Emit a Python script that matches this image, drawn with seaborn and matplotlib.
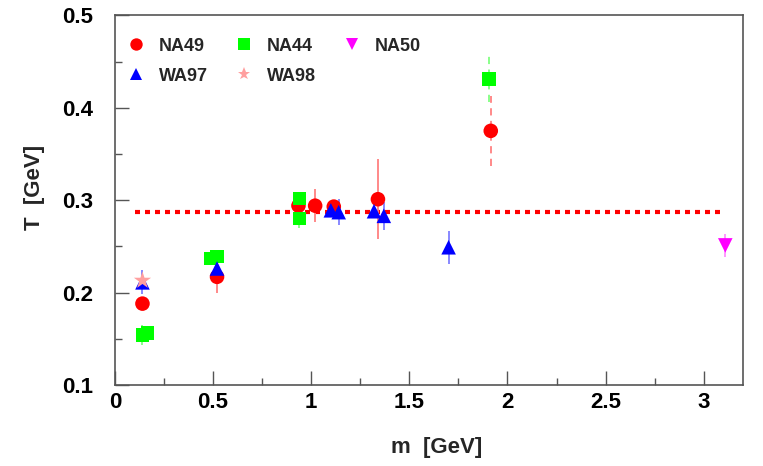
import numpy as np
import pandas as pd
import seaborn as sns
import matplotlib.pyplot as plt
from matplotlib.ticker import MultipleLocator
from matplotlib.lines import Line2D

# measured freeze-out temperatures vs particle mass
na49_m = [0.14, 0.52, 0.935, 1.02, 1.115, 1.34, 1.915]
na49_T = [0.188, 0.217, 0.294, 0.294, 0.293, 0.301, 0.375]
na49_err = [0.0, 0.017, 0.0, 0.018, 0.0, 0.043, 0.038]

na44_m = [0.14, 0.165, 0.49, 0.52, 0.94, 0.94, 1.905]
na44_T = [0.154, 0.156, 0.237, 0.239, 0.302, 0.280, 0.431]
na44_err = [0.011, 0.0, 0.0, 0.0, 0.0, 0.010, 0.025]

wa97_m = [0.14, 0.52, 1.10, 1.14, 1.32, 1.37, 1.70]
wa97_T = [0.211, 0.226, 0.289, 0.287, 0.288, 0.283, 0.249]
wa97_err = [0.013, 0.0, 0.0, 0.014, 0.0, 0.015, 0.018]

wa98_m = [0.14]
wa98_T = [0.213]

na50_m = [3.11]
na50_T = [0.251]
na50_err = [0.012]

# dashed error bars (last point of NA49 and NA44)
dashed_idx = 6

fit_T = 0.2875
fit_range = [0.1, 3.1]

sns.set_style("ticks")
plt.rcParams['font.family'] = ['Liberation Sans', 'DejaVu Sans']
plt.rcParams['font.weight'] = 'bold'

fig = plt.figure(figsize=(7.63, 4.66), dpi=100)
ax = fig.add_axes([0.1507, 0.174, 0.823, 0.793])

# fit line
ax.plot(fit_range, [fit_T, fit_T], color='red', lw=3, ls=(0, (1.2, 1.2)), zorder=1)

experiments = [
    ('NA49', na49_m, na49_T, na49_err, 'o', '#ff0000', '#ff8080', 110),
    ('NA44', na44_m, na44_T, na44_err, 's', '#00ff00', '#80ff80', 95),
    ('WA97', wa97_m, wa97_T, wa97_err, '^', '#0000ff', '#7f7fff', 110),
    ('WA98', wa98_m, wa98_T, None, '*', '#ff9f9f', '#ffb0b0', 170),
    ('NA50', na50_m, na50_T, na50_err, 'v', '#ff00ff', '#ff90ff', 110),
]

for name, m, T, err, mk, col, ecol, size in experiments:
    if err is not None:
        m_arr = np.array(m)
        T_arr = np.array(T)
        e_arr = np.array(err)
        solid = [i for i in range(len(m)) if e_arr[i] > 0 and not (name in ('NA49', 'NA44') and i == dashed_idx)]
        if solid:
            ax.errorbar(m_arr[solid], T_arr[solid], yerr=e_arr[solid], fmt='none',
                        ecolor=ecol, elinewidth=1.3, capsize=0, zorder=2)
        if name in ('NA49', 'NA44'):
            i = dashed_idx
            ax.plot([m_arr[i], m_arr[i]], [T_arr[i] - e_arr[i], T_arr[i] + e_arr[i]],
                    color=ecol, lw=1.3, ls=(0, (4, 3)), zorder=2)
    df = pd.DataFrame({'m': m, 'T': T})
    sns.scatterplot(data=df, x='m', y='T', marker=mk, color=col, s=size,
                    edgecolor='none', ax=ax, zorder=3)

ax.set_xlim(0, 3.2)
ax.set_ylim(0.1, 0.5)
ax.xaxis.set_major_locator(MultipleLocator(0.5))
ax.xaxis.set_minor_locator(MultipleLocator(0.25))
ax.yaxis.set_major_locator(MultipleLocator(0.1))
ax.yaxis.set_minor_locator(MultipleLocator(0.05))
ax.set_xticks([0, 0.5, 1, 1.5, 2, 2.5, 3])
ax.set_xticklabels(['0', '0.5', '1', '1.5', '2', '2.5', '3'])
ax.set_yticks([0.1, 0.2, 0.3, 0.4, 0.5])
ax.set_yticklabels(['0.1', '0.2', '0.3', '0.4', '0.5'])

ax.tick_params(axis='both', which='both', direction='in', colors='#555555',
               labelcolor='black', width=1)
ax.tick_params(axis='both', which='major', length=10, labelsize=16)
ax.tick_params(axis='both', which='minor', length=5)
ax.tick_params(axis='y', which='major', pad=16)
ax.tick_params(axis='x', which='major', pad=5)
for lab in ax.get_xticklabels() + ax.get_yticklabels():
    lab.set_fontweight('bold')
for sp in ax.spines.values():
    sp.set_color('#555555')
    sp.set_linewidth(1.2)

ax.set_xlabel('m  [GeV]', fontsize=16, fontweight='bold')
ax.set_ylabel('T  [GeV]', fontsize=16, fontweight='bold')
ax.xaxis.set_label_coords(0.513, -0.14)
ax.yaxis.set_label_coords(-0.112, 0.535)

handles = []
for name, m, T, err, mk, col, ecol, size in experiments:
    handles.append(Line2D([], [], marker=mk, color=col, ls='none',
                          markersize=np.sqrt(size) * (0.85 if mk != '*' else 0.75),
                          markeredgewidth=0, label=name))
order = [0, 2, 1, 3, 4]
leg = ax.legend([handles[i] for i in order], [handles[i].get_label() for i in order],
                ncol=3, loc='upper left', bbox_to_anchor=(0.0048, 0.959),
                frameon=False, prop={'size': 13, 'weight': 'bold'},
                handletextpad=0.68, columnspacing=1.38, labelspacing=0.72,
                handlelength=1.2, borderaxespad=0)

fig.savefig('out.png', dpi=100)
